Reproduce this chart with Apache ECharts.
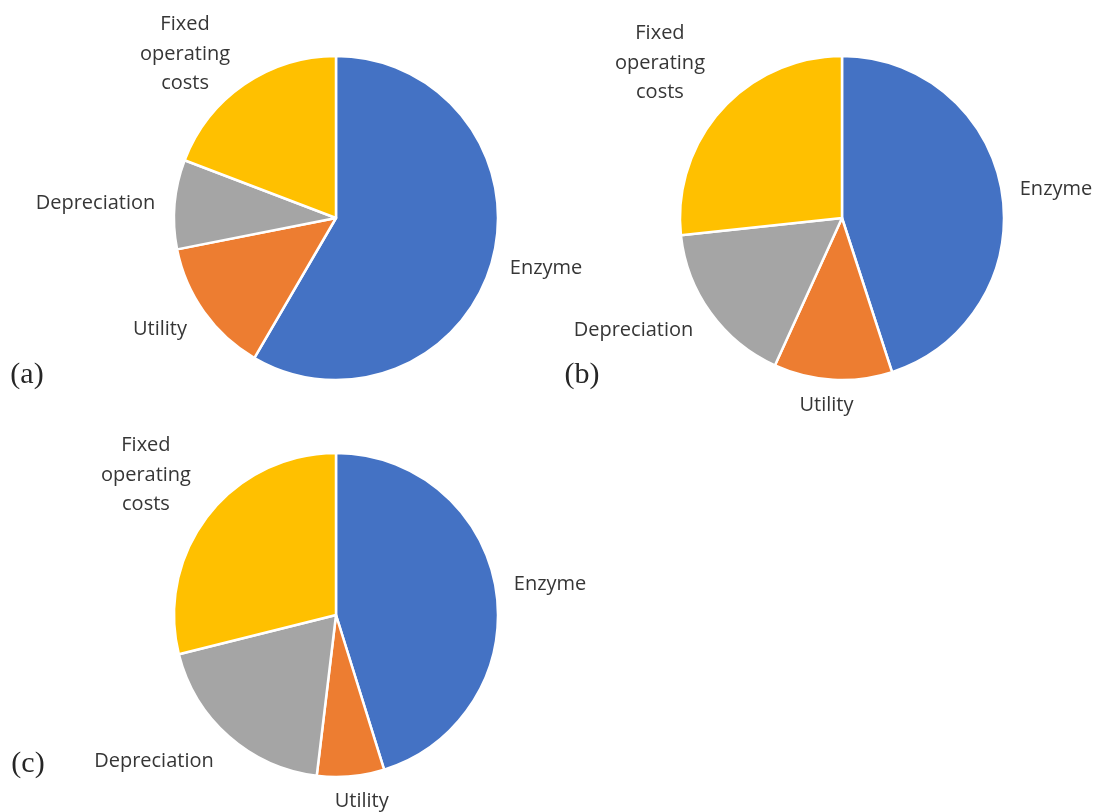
<!DOCTYPE html>
<html>
<head>
<meta charset="utf-8">
<script src="https://cdn.jsdelivr.net/npm/echarts@6/dist/echarts.min.js"></script>
<style>
  html, body { margin: 0; padding: 0; background: #ffffff; }
  #chart { width: 1095px; height: 812px; }
</style>
</head>
<body>
<div id="chart"></div>
<script>
// Cost categories (same order for every pie, clockwise from 12 o'clock)
const categories = ['Enzyme', 'Utility', 'Depreciation', 'Fixed operating costs'];

// Cost shares in percent for each case
const shareA = [58.4, 13.5, 8.9, 19.2];
const shareB = [45.0, 11.8, 16.5, 26.7];
const shareC = [45.2, 6.7, 19.2, 28.9];

const panelTags = ['(a)', '(b)', '(c)'];

const sliceColors = ['#4472C4', '#ED7D31', '#A5A5A5', '#FFC000'];
const labelFont = '"Open Sans", "Noto Sans", sans-serif';
const labelColor = '#363636';
const pieRadius = 162;

// Layout of each panel: pie centre, tag position, and for each label
// its distance from the centre along the slice bisector plus a sideways shift.
const panels = [
  {
    values: shareA, center: [336, 218], tagAt: [27, 375],
    labelPlace: [[215.8, -6.5], [207.8, 11.7], [240.9, -5.5], [220.7, -31.3]]
  },
  {
    values: shareB, center: [842, 218], tagAt: [582, 375],
    labelPlace: [[215.9, 4.9], [187.6, 4.9], [234.6, 31.2], [239.0, -6.4]]
  },
  {
    values: shareC, center: [336, 615], tagAt: [28, 764],
    labelPlace: [[216.3, 1.5], [187.5, -8.7], [229.9, 40.0], [235.9, -6.7]]
  }
];

// Angle (radians, clockwise from 12 o'clock) of the bisector of slice i
function midAngle(values, i) {
  const total = values.reduce((s, v) => s + v, 0);
  let before = 0;
  for (let k = 0; k < i; k++) before += values[k];
  return (before + values[i] / 2) / total * Math.PI * 2;
}

function makeSeries(panel) {
  return {
    type: 'pie',
    center: panel.center,
    radius: pieRadius,
    startAngle: 90,
    clockwise: true,
    avoidLabelOverlap: false,
    animation: false,
    silent: true,
    itemStyle: { borderColor: '#ffffff', borderWidth: 2.5 },
    label: {
      show: true,
      position: 'outside',
      formatter: (p) => p.name === 'Fixed operating costs' ? 'Fixed\noperating\ncosts' : p.name,
      color: labelColor,
      fontFamily: labelFont,
      fontSize: 20,
      lineHeight: 29.5,
      align: 'center'
    },
    labelLine: { show: false },
    labelLayout: function (params) {
      const i = params.dataIndex;
      const a = midAngle(panel.values, i);
      const d = panel.labelPlace[i][0];
      const t = panel.labelPlace[i][1];
      return {
        x: panel.center[0] + d * Math.sin(a) + t * Math.cos(a),
        y: panel.center[1] - d * Math.cos(a) + t * Math.sin(a),
        align: 'center',
        verticalAlign: 'middle'
      };
    },
    emphasis: { disabled: true },
    data: categories.map((name, i) => ({
      name: name,
      value: panel.values[i],
      itemStyle: { color: sliceColors[i] }
    }))
  };
}

const chart = echarts.init(document.getElementById('chart'), null, { renderer: 'canvas' });
chart.setOption({
  backgroundColor: '#ffffff',
  animation: false,
  series: panels.map(makeSeries),
  graphic: panels.map((p, k) => ({
    type: 'text',
    x: p.tagAt[0],
    y: p.tagAt[1],
    style: {
      text: panelTags[k],
      fill: '#262626',
      font: '30px "Liberation Serif", "DejaVu Serif", serif',
      textAlign: 'center',
      textVerticalAlign: 'middle'
    }
  }))
});
</script>
</body>
</html>
